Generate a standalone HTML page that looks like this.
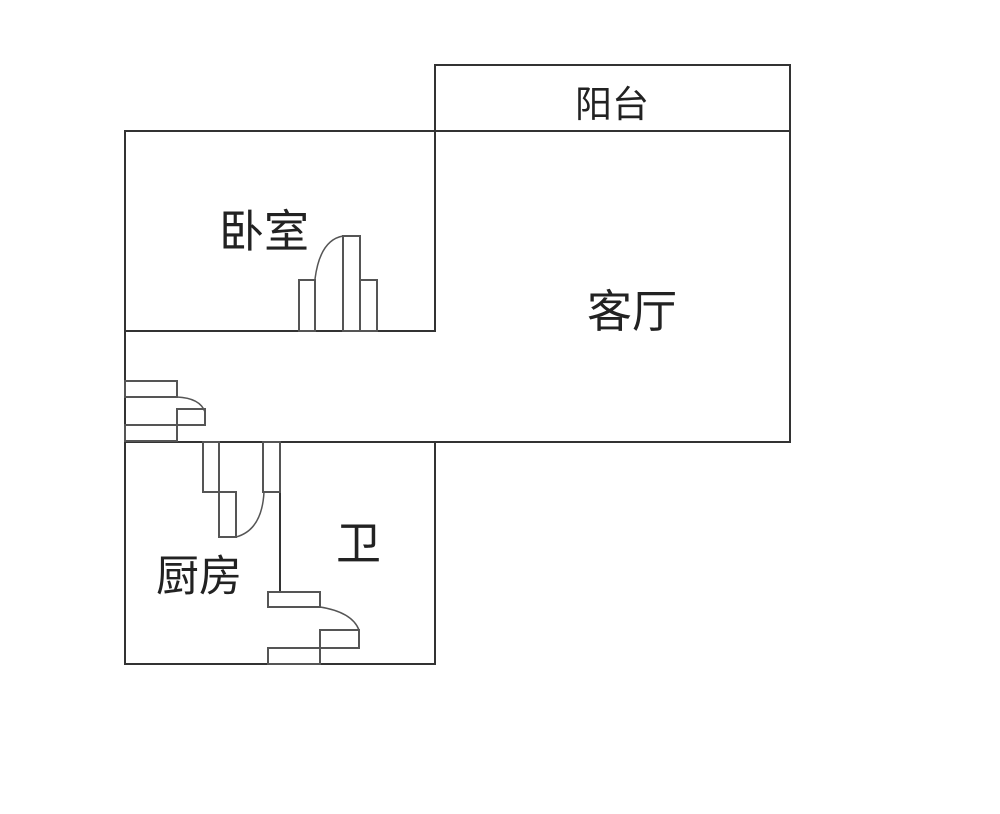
<!DOCTYPE html>
<html><head><meta charset="utf-8"><style>
html,body{margin:0;padding:0;background:#fff;}
svg{display:block}
text{font-family:"Liberation Sans","Noto Sans CJK SC",sans-serif;fill:#222;}
</style></head><body>
<svg width="1000" height="814" viewBox="0 0 1000 814" xmlns="http://www.w3.org/2000/svg">
<g fill="none" stroke="#333" stroke-width="2">
<rect x="435" y="65" width="355" height="66"/>
<rect x="125" y="131" width="310" height="200"/>
<polyline points="435,131 790,131 790,442 435,442"/>
<line x1="125" y1="331" x2="125" y2="442"/>
<rect x="125" y="442" width="310" height="222"/>
<line x1="280" y1="442" x2="280" y2="592"/>
</g>
<g fill="#fff" stroke="#555" stroke-width="2">
<rect x="299" y="280" width="16" height="51"/>
<rect x="343" y="236" width="17" height="95"/>
<rect x="360" y="280" width="17" height="51"/>
<rect x="125" y="381" width="52" height="16"/>
<rect x="177" y="409" width="28" height="16"/>
<rect x="125" y="425" width="52" height="16"/>
<rect x="203" y="442" width="16" height="50"/>
<rect x="219" y="492" width="17" height="45"/>
<rect x="263" y="442" width="17" height="50"/>
<rect x="268" y="592" width="52" height="15"/>
<rect x="320" y="630" width="39" height="18"/>
<rect x="268" y="648" width="52" height="16"/>
</g>
<g fill="none" stroke="#555" stroke-width="1.5">
<path d="M315,279 Q320,240 343,236"/>
<path d="M177,397 Q200,398 205,412"/>
<path d="M236,537 Q262,530 264,492"/>
<path d="M320,607 Q352,612 359,630"/>
</g>
<text x="575" y="117" font-size="37">阳台</text>
<text x="219" y="247" font-size="45">卧室</text>
<text x="587" y="327" font-size="45">客厅</text>
<text x="156" y="591" font-size="43">厨房</text>
<text x="336" y="559" font-size="45">卫</text>
</svg>
</body></html>
